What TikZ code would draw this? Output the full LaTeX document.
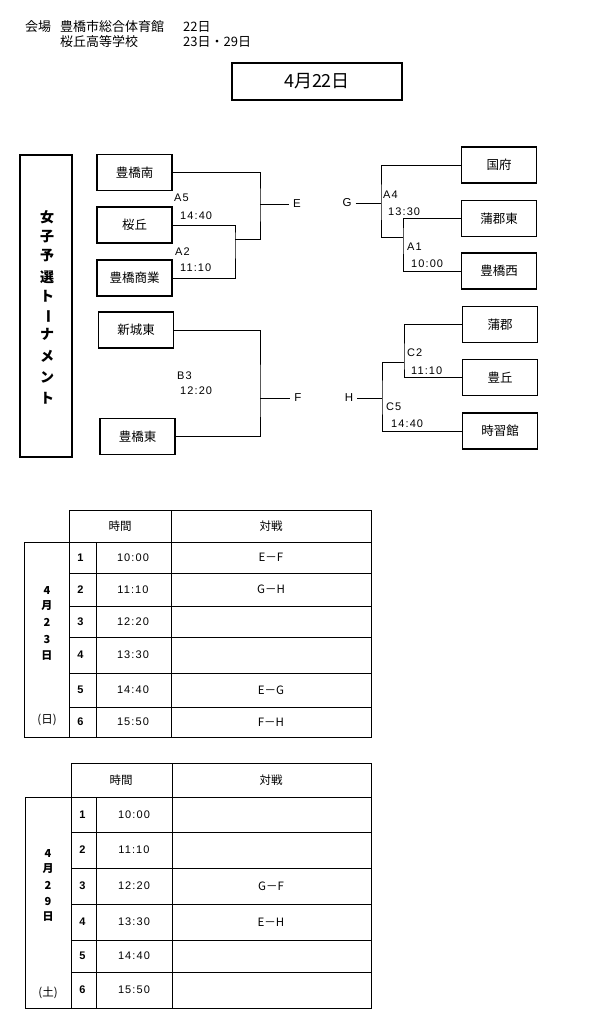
\documentclass[tikz,border=0pt]{standalone}
\usepackage{fontspec}
\setmainfont{Liberation Sans}
\newfontfamily\jp{Noto Sans CJK JP}
\newfontfamily\num[LetterSpace=10]{Liberation Sans}
\begin{document}
\begin{tikzpicture}[x=1pt,y=-1pt,
  team/.style={draw, line width=1.5pt, minimum width=75pt, minimum height=36pt, inner sep=0pt, font=\jp\fontsize{12.5}{14}\selectfont},
  conn/.style={line width=0.8pt},
  lbl/.style={anchor=west, inner sep=0pt, font=\num\fontsize{11}{12}\selectfont},
  letter/.style={inner sep=0pt, font=\fontsize{11.5}{12}\selectfont},
  head/.style={anchor=west, inner sep=0pt, font=\jp\fontsize{13}{14}\selectfont},
  vchar/.style={inner sep=0pt, font=\jp\bfseries\fontsize{14}{15}\selectfont},
  grid/.style={line width=1pt},
  cell/.style={inner sep=0pt, font=\jp\fontsize{11.5}{12}\selectfont},
  tnum/.style={inner sep=0pt, font=\num\fontsize{11}{12}\selectfont},
  dchar/.style={inner sep=0pt, font=\jp\bfseries\fontsize{11}{12}\selectfont}
]
\useasboundingbox (0,0) rectangle (600,1029);
\fill[white] (0,0) rectangle (600,1029);

% header
\node[head] (kai) at (25,27) {会場};
\node[head] (v1) at (60,27) {豊橋市総合体育館};
\node[head] (d1) at (183,27) {22日};
\node[head] (v2) at (60,42) {桜丘高等学校};
\node[head] (d2) at (183,42) {23日・29日};

% title
\node[draw, line width=1.8pt, minimum width=170pt, minimum height=37pt, inner sep=0pt,
      font=\jp\fontsize{18}{20}\selectfont] (title) at (317,81.5) {4月22日};

% vertical title box
\node[draw, line width=1.5pt, minimum width=52pt, minimum height=302pt, inner sep=0pt] (vt) at (46,306) {};
\foreach \c/\yy [count=\i] in {女/217,子/237,予/256,選/277,ト/296,ナ/334,メ/356,ン/377,ト/398}
  \node[vchar] (vc\i) at (47,\yy) {\c};
\node[vchar, rotate=-90] (vbar) at (47,316) {ー};

% left teams
\node[team] (nan) at (134.5,172.5) {豊橋南};
\node[team] (sak) at (134.5,225) {桜丘};
\node[team] (shg) at (134.5,278) {豊橋商業};
\node[team] (shi) at (136,330) {新城東};
\node[team] (hhi) at (137.5,436.5) {豊橋東};

% right teams
\node[team] (kok) at (499,165) {国府};
\node[team] (gae) at (499,218.5) {蒲郡東};
\node[team] (hnw) at (499,271) {豊橋西};
\node[team] (gam) at (500,324.5) {蒲郡};
\node[team] (toy) at (500,377.5) {豊丘};
\node[team] (jis) at (500,431) {時習館};

% letters
\node[letter] (E) at (297,204) {E};
\node[letter] (F) at (298,398) {F};
\node[letter] (G) at (347,203) {G};
\node[letter] (H) at (349,398) {H};

% junctions
\coordinate (i1) at (235,239);
\coordinate (o1) at (260,204);
\coordinate (o3) at (260,398);
\coordinate (g1) at (381,203);
\coordinate (g2) at (403,237);
\coordinate (h1) at (382,398);
\coordinate (h2) at (404,362);

% connectors left
\draw[conn] (sak.east) -| (i1) |- (shg.east);
\draw[conn] (nan.east) -| (o1) |- (i1);
\draw[conn] (o1) -- ([xshift=-4pt]E.west);
\draw[conn] (shi.east) -| (o3) |- (hhi.east);
\draw[conn] (o3) -- ([xshift=-4pt]F.west);
% connectors right
\draw[conn] ([xshift=4pt]G.east) -- (g1);
\draw[conn] (kok.west) -| (g1) |- (g2);
\draw[conn] (gae.west) -| (g2) |- (hnw.west);
\draw[conn] ([xshift=4pt]H.east) -- (h1);
\draw[conn] (gam.west) -| (h2) |- (toy.west);
\draw[conn] (jis.west) -| (h1) |- (h2);

% match labels
\node[lbl] (la5) at (174,198) {A5};
\node[lbl] (ta5) at (180,216) {14:40};
\node[lbl] (la2) at (175,252) {A2};
\node[lbl] (ta2) at (180,268) {11:10};
\node[lbl] (lb3) at (177,376) {B3};
\node[lbl] (tb3) at (180,391) {12:20};
\node[lbl] (la4) at (383,195) {A4};
\node[lbl] (ta4) at (388,212) {13:30};
\node[lbl] (la1) at (407,247) {A1};
\node[lbl] (ta1) at (411,264) {10:00};
\node[lbl] (lc2) at (407,353) {C2};
\node[lbl] (tc2) at (411,371) {11:10};
\node[lbl] (lc5) at (386,407) {C5};
\node[lbl] (tc5) at (391,424) {14:40};

% ---------- table 1 ----------
\draw[grid] (69,510) rectangle (371,542);
\draw[grid] (171,510) -- (171,737);
\draw[grid] (24,542) rectangle (69,737);
\draw[grid] (69,542) -- (69,737) -- (371,737) -- (371,542);
\draw[grid] (96,542) -- (96,737);
\foreach \yy in {573,606,637,673,707}
  \draw[grid] (69,\yy) -- (371,\yy);
\node[cell] (t1h1) at (120,526) {時間};
\node[cell] (t1h2) at (271,526) {対戦};
\foreach \n/\t/\m/\yy in {1/10:00/E－F/557.5, 2/11:10/G－H/589.5, 3/12:20//621.5, 4/13:30//655, 5/14:40/E－G/690, 6/15:50/F－H/722}{
  \node[tnum] (t1n\n) at (81,\yy) {\textbf{\n}};
  \node[tnum] (t1t\n) at (133,\yy) {\t};
  \node[cell] (t1m\n) at (271,\yy) {\m};
}
\foreach \c/\yy [count=\i] in {4/590,月/606,2/622,3/639,日/656}
  \node[dchar] (t1d\i) at (47,\yy) {\c};
\node[cell] (t1w) at (47,720) {(日)};

% ---------- table 2 ----------
\draw[grid] (71,763) rectangle (371,797);
\draw[grid] (172,763) -- (172,1008);
\draw[grid] (25,797) rectangle (71,1008);
\draw[grid] (71,797) -- (71,1008) -- (371,1008) -- (371,797);
\draw[grid] (96,797) -- (96,1008);
\foreach \yy in {832,868,904,940,972}
  \draw[grid] (71,\yy) -- (371,\yy);
\node[cell] (t2h1) at (121,780) {時間};
\node[cell] (t2h2) at (271,780) {対戦};
\foreach \n/\t/\m/\yy in {1/10:00//814.5, 2/11:10//850, 3/12:20/G－F/886, 4/13:30/E－H/922, 5/14:40//956, 6/15:50//990}{
  \node[tnum] (t2n\n) at (83,\yy) {\textbf{\n}};
  \node[tnum] (t2t\n) at (134,\yy) {\t};
  \node[cell] (t2m\n) at (271,\yy) {\m};
}
\foreach \c/\yy [count=\i] in {4/853,月/869,2/885,9/901,日/917}
  \node[dchar] (t2d\i) at (48,\yy) {\c};
\node[cell] (t2w) at (48,993) {(土)};
\end{tikzpicture}
\end{document}
